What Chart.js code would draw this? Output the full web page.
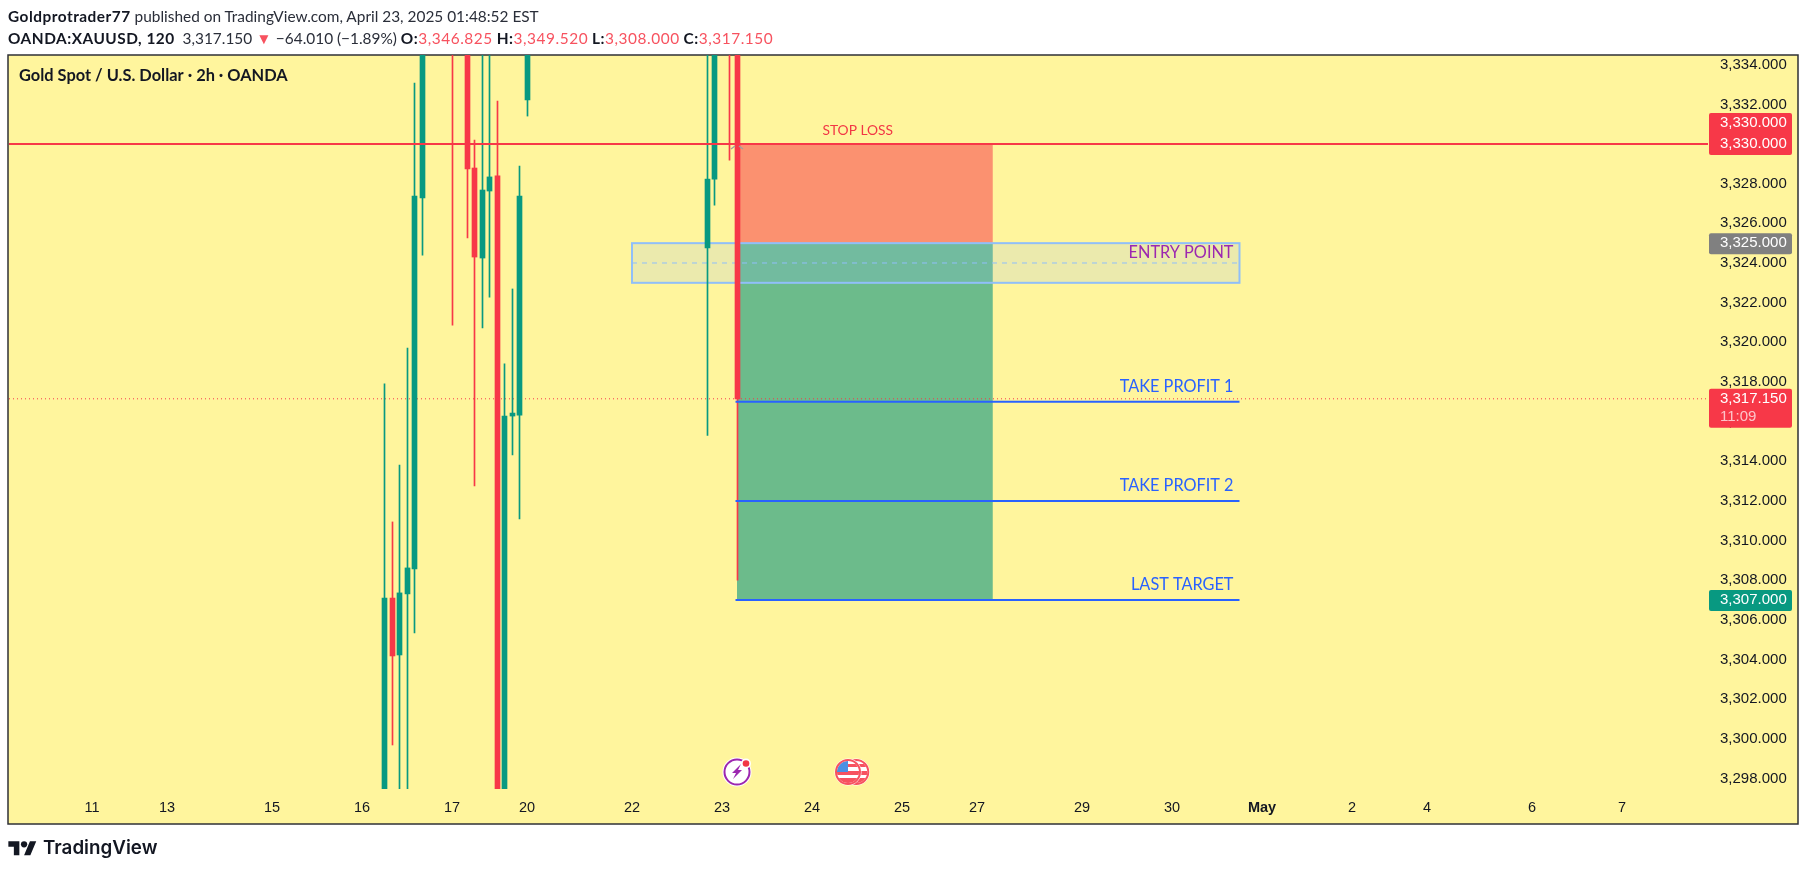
<!DOCTYPE html>
<html>
<head>
<meta charset="utf-8">
<title>XAUUSD</title>
<script src="https://cdn.jsdelivr.net/npm/chart.js@4/dist/chart.umd.min.js"></script>
<style>
  html, body { margin: 0; padding: 0; background: #fff; }
  #wrap { position: relative; width: 1807px; height: 871px; overflow: hidden; }
  canvas { position: absolute; left: 0; top: 0; }
  .hd { position: absolute; left: 8px; font: 15.4px Lato, sans-serif; color: #2a2e39; white-space: nowrap; }
  .hd b { color: #131722; font-weight: 700; letter-spacing: 0.5px; }
  .hd i { font-style: normal; color: #f7525f; letter-spacing: 0.55px; }
  #logo { position: absolute; left: 8px; top: 838px; }
  #brand { position: absolute; left: 43px; top: 836px; font: 600 18.8px Inter, sans-serif; color: #131722; }
</style>
</head>
<body>
<div id="wrap">
  <canvas id="myChart" width="1807" height="871"></canvas>
  <div class="hd" style="top:7px"><b>Goldprotrader77</b> published on TradingView.com, April 23, 2025 01:48:52 EST</div>
  <div class="hd" style="top:29px"><b>OANDA:XAUUSD, 120</b>&nbsp; 3,317.150 <i>▼</i> −64.010 (−1.89%) <b>O:</b><i>3,346.825</i> <b>H:</b><i>3,349.520</i> <b>L:</b><i>3,308.000</i> <b>C:</b><i>3,317.150</i></div>
  <svg id="logo" width="29" height="22" viewBox="0 0 36 28"><path fill="#131722" d="M14 22H7V11H0V4h14v18zM28 22h-8l7.5-18h8L28 22z"/><circle fill="#131722" cx="20" cy="8" r="4"/></svg>
  <div id="brand">TradingView</div>
</div>
<script>
// 2h bars, counted from the first candle visible near the bottom of the pane
const barIndex = [0, 1, 2, 3, 4, 5, 9, 11, 12, 13, 14, 15, 16, 17, 18, 19, 43, 44, 46, 47];
const openPrices = [3295, 3307.1, 3304.23, 3307.31, 3308.57, 3327.28, 3350, 3338, 3328.79, 3324.25, 3327.63, 3328.39, 3290, 3316.28, 3316.33, 3332.22, 3324.76, 3328.23, 3352, 3346.825];
const closePrices = [3307.1, 3304.18, 3307.36, 3308.62, 3327.38, 3340, 3340, 3328.74, 3324.3, 3327.68, 3328.34, 3290, 3316.28, 3316.43, 3327.38, 3340, 3328.23, 3340, 3342, 3317.15];
const highPrices = [3317.9, 3310.94, 3313.81, 3319.71, 3333.08, 3342, 3352, 3340, 3330.2, 3336, 3336, 3332.17, 3318.91, 3322.69, 3328.89, 3342, 3336, 3342, 3354, 3349.52];
const lowPrices = [3290, 3299.69, 3296, 3296, 3305.34, 3324.4, 3320.87, 3325.26, 3312.75, 3320.72, 3322.28, 3288, 3288, 3314.32, 3311.09, 3331.41, 3315.3, 3326.92, 3329.19, 3308];

const tickBars = [-39, -29, -15, -3, 9, 19, 33, 45, 57, 69, 79, 93, 105, 117, 129, 139, 153, 165];
const tickLabels = ["11", "13", "15", "16", "17", "20", "22", "23", "24", "25", "27", "29", "30", "May", "2", "4", "6", "7"];

const stopPrice = 3330;
const entryPrice = 3325;
const lastPrice = 3317.15;
const targetPrices = [3317, 3312, 3307];
const targetNames = ["TAKE PROFIT 1", "TAKE PROFIT 2", "LAST TARGET"];
const boxPrices = [3323, 3325];
const boxMidPrice = 3324;
const zoneBars = [47, 81.1];
const levelBars = [46.8, 114];
const boxBars = [33, 114];
const eventBars = [47, 61.8, 62.9];

const xMin = -50.07, xMax = 176.47;
const yMin = 3297.47, yMax = 3334.49;

const GREEN = "#089981", RED = "#f73848", BLUE = "#2962ff", BOXBLUE = "#90bff9";
const AXIS_FONT = "Liberation Sans";

const candleColors = barIndex.map((b, i) => (closePrices[i] >= openPrices[i] ? GREEN : RED));

function fmt(v) {
  return v.toLocaleString("en-US", { minimumFractionDigits: 3, maximumFractionDigits: 3 });
}

function lineData(bars, price) {
  return bars.map((b) => ({ x: b, y: price }));
}

function level(price, color, extra) {
  return Object.assign({
    type: "line",
    data: lineData(levelBars, price),
    borderColor: color,
    borderWidth: 2,
    pointRadius: 0,
    order: 1,
  }, extra);
}

// snap the candles to whole pixels, TradingView does this too
const snapBars = {
  id: "snapBars",
  afterDatasetsUpdate(chart) {
    chart.getSortedVisibleDatasetMetas().forEach((meta) => {
      if (meta.type !== "bar") return;
      meta.data.forEach((el) => {
        el.x = Math.floor(el.x) + 0.5;
      });
    });
  },
};

const pane = {
  id: "pane",
  beforeDraw(chart) {
    const c = chart.ctx;
    c.save();
    c.fillStyle = "#fff59d";
    c.fillRect(8, 55, 1790, 769);
    c.strokeStyle = "#2f3136";
    c.lineWidth = 1.5;
    c.strokeRect(8, 55, 1790, 769);
    c.restore();
  },
  beforeDatasetsDraw(chart) {
    const c = chart.ctx;
    const { x, y } = chart.scales;
    const zl = x.getPixelForValue(zoneBars[0]), zr = x.getPixelForValue(zoneBars[1]);
    c.save();
    // short position zones
    c.fillStyle = "#fb9170";
    c.fillRect(zl, y.getPixelForValue(stopPrice), zr - zl, y.getPixelForValue(entryPrice) - y.getPixelForValue(stopPrice));
    c.fillStyle = "#6cbb8b";
    const last = targetPrices[targetPrices.length - 1];
    c.fillRect(zl, y.getPixelForValue(entryPrice), zr - zl, y.getPixelForValue(last) - y.getPixelForValue(entryPrice));
    // entry box
    const bl = x.getPixelForValue(boxBars[0]), br = x.getPixelForValue(boxBars[1]);
    const bt = y.getPixelForValue(boxPrices[1]), bb = y.getPixelForValue(boxPrices[0]);
    c.fillStyle = "rgba(144,191,249,0.18)";
    c.fillRect(bl, bt, br - bl, bb - bt);
    c.strokeStyle = BOXBLUE;
    c.lineWidth = 2;
    c.strokeRect(bl, bt, br - bl, bb - bt);
    c.lineWidth = 1;
    c.setLineDash([5, 5]);
    c.beginPath();
    c.moveTo(bl, y.getPixelForValue(boxMidPrice));
    c.lineTo(br, y.getPixelForValue(boxMidPrice));
    c.stroke();
    c.restore();
  },
  afterDatasetsDraw(chart) {
    const c = chart.ctx;
    const { x, y } = chart.scales;
    c.save();
    // little arrow head on the stop line
    const ax = x.getPixelForValue(zoneBars[0]), ay = y.getPixelForValue(stopPrice);
    c.strokeStyle = "#a0a0a0";
    c.lineWidth = 1.5;
    c.beginPath();
    c.moveTo(ax - 6, ay + 5);
    c.lineTo(ax - 2, ay + 2);
    c.moveTo(ax + 2, ay + 2);
    c.lineTo(ax + 6, ay + 5);
    c.stroke();

    c.textBaseline = "middle";
    c.fillStyle = "#131722";
    c.font = "bold 16.4px Lato, sans-serif";
    c.fillText("Gold Spot / U.S. Dollar · 2h · OANDA", 19, 76);

    c.textAlign = "center";
    c.font = "13.8px Lato, sans-serif";
    c.fillStyle = "#f23645";
    c.fillText("STOP LOSS", x.getPixelForValue(63.1), y.getPixelForValue(stopPrice) - 13);

    const textX = x.getPixelForValue(levelBars[1]) - 6;
    c.textAlign = "right";
    c.font = "16.3px Lato, sans-serif";
    c.fillStyle = "#9c27b0";
    c.fillText("ENTRY POINT", textX, y.getPixelForValue(boxMidPrice) - 10);
    c.fillStyle = BLUE;
    targetPrices.forEach((p, i) => {
      c.fillText(targetNames[i], textX, y.getPixelForValue(p) - 15);
    });

    // event icons on the time scale edge
    const iy = 772;
    const ix = x.getPixelForValue(eventBars[0]);
    c.fillStyle = "#fff";
    c.beginPath();
    c.arc(ix, iy, 14.5, 0, Math.PI * 2);
    c.fill();
    c.strokeStyle = "#9c27b0";
    c.lineWidth = 2;
    c.beginPath();
    c.arc(ix, iy, 12.5, 0, Math.PI * 2);
    c.stroke();
    c.fillStyle = "#9c27b0";
    c.beginPath();
    c.moveTo(ix + 4, iy - 8);
    c.lineTo(ix - 5, iy + 1);
    c.lineTo(ix - 1, iy + 1);
    c.lineTo(ix - 4, iy + 7);
    c.lineTo(ix + 5, iy - 2);
    c.lineTo(ix + 1, iy - 2);
    c.closePath();
    c.fill();
    c.fillStyle = "#fff";
    c.beginPath();
    c.arc(ix + 9, iy - 8.5, 5, 0, Math.PI * 2);
    c.fill();
    c.fillStyle = "#f23645";
    c.beginPath();
    c.arc(ix + 9, iy - 8.5, 3.3, 0, Math.PI * 2);
    c.fill();

    [eventBars[2], eventBars[1]].forEach((b) => {
      const fx = x.getPixelForValue(b);
      c.fillStyle = "#fff";
      c.beginPath();
      c.arc(fx, iy, 13.5, 0, Math.PI * 2);
      c.fill();
      c.save();
      c.beginPath();
      c.arc(fx, iy, 11, 0, Math.PI * 2);
      c.clip();
      c.fillStyle = "#fff";
      c.fillRect(fx - 11, iy - 11, 22, 22);
      c.fillStyle = "#f7525f";
      c.fillRect(fx - 11, iy - 1, 22, 4);
      c.fillRect(fx - 11, iy + 6, 22, 5);
      c.fillRect(fx, iy - 8, 11, 3);
      c.fillStyle = "#4a90e2";
      c.fillRect(fx - 11, iy - 11, 11, 11);
      c.restore();
      c.strokeStyle = "#f7525f";
      c.lineWidth = 2;
      c.beginPath();
      c.arc(fx, iy, 12, 0, Math.PI * 2);
      c.stroke();
    });
    c.restore();
  },
  afterDraw(chart) {
    const c = chart.ctx;
    const { y } = chart.scales;
    const box = (top, h, color) => {
      c.fillStyle = color;
      c.beginPath();
      c.roundRect(1709, top, 83, h, 2);
      c.fill();
    };
    c.save();
    c.textBaseline = "middle";
    c.font = "15px " + AXIS_FONT;

    const sy = y.getPixelForValue(stopPrice);
    box(sy - 31, 42, RED);
    c.fillStyle = "#fff";
    c.fillText(fmt(stopPrice), 1720, sy - 21);
    c.fillText(fmt(stopPrice), 1720, sy);

    const ey = y.getPixelForValue(entryPrice);
    box(ey - 10, 21, "#808080");
    c.fillStyle = "#fff";
    c.fillText(fmt(entryPrice), 1720, ey);

    const ly = y.getPixelForValue(lastPrice);
    box(ly - 10, 39, RED);
    c.fillStyle = "#fff";
    c.fillText(fmt(lastPrice), 1720, ly);
    c.fillStyle = "rgba(255,255,255,0.7)";
    c.fillText("11:09", 1720, ly + 18);

    const ty = y.getPixelForValue(targetPrices[2]);
    box(ty - 10, 21, GREEN);
    c.fillStyle = "#fff";
    c.fillText(fmt(targetPrices[2]), 1720, ty);
    c.restore();
  },
};

new Chart(document.getElementById("myChart").getContext("2d"), {
  type: "bar",
  data: {
    datasets: [
      // top lines
      level(stopPrice, RED, { data: lineData([xMin, xMax], stopPrice) }),
      level(targetPrices[0], BLUE),
      level(targetPrices[1], BLUE),
      level(targetPrices[2], BLUE),
      // candles
      {
        data: barIndex.map((b, i) => ({ x: b, y: [openPrices[i], closePrices[i]] })),
        backgroundColor: candleColors,
        barThickness: 5,
        order: 2,
      },
      {
        data: barIndex.map((b, i) => ({ x: b, y: [lowPrices[i], highPrices[i]] })),
        backgroundColor: candleColors,
        barThickness: 1,
        order: 3,
      },
      // last price, under the candles
      level(lastPrice, RED, {
        data: lineData([xMin, xMax], lastPrice),
        borderWidth: 1,
        borderDash: [1, 3],
        order: 5,
      }),
    ],
  },
  options: {
    responsive: false,
    animation: false,
    devicePixelRatio: 1,
    grouped: false,
    layout: {
      autoPadding: false,
      padding: { left: 9, top: 55, right: 9, bottom: 47 },
    },
    plugins: {
      legend: { display: false },
      tooltip: { enabled: false },
    },
    scales: {
      x: {
        type: "linear",
        offset: false,
        min: xMin,
        max: xMax,
        grid: { display: false, drawTicks: false },
        border: { display: false },
        afterBuildTicks(scale) {
          scale.ticks = tickBars.map((v) => ({ value: v }));
        },
        afterFit(scale) {
          scale.height = 35;
        },
        ticks: {
          autoSkip: false,
          maxRotation: 0,
          padding: 10,
          color: "#131722",
          font: (ctx) => ({
            family: AXIS_FONT,
            size: 14.5,
            weight: ctx.tick && ctx.tick.label === "May" ? "bold" : "normal",
          }),
          callback: (v) => tickLabels[tickBars.indexOf(v)],
        },
      },
      y: {
        position: "right",
        min: yMin,
        max: yMax,
        grid: { display: false, drawTicks: false },
        border: { display: false },
        afterFit(scale) {
          scale.width = 90;
        },
        ticks: {
          stepSize: 2,
          includeBounds: false,
          autoSkip: false,
          padding: 12,
          color: "#131722",
          font: { family: AXIS_FONT, size: 15 },
          callback: (v) => fmt(v),
        },
      },
    },
  },
  plugins: [snapBars, pane],
});
</script>
</body>
</html>
